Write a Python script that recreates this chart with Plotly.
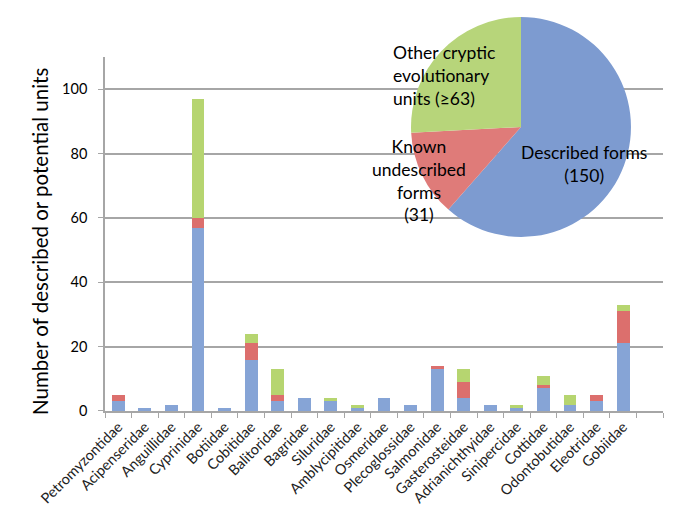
import plotly.graph_objects as go

# Families on the x axis (last slot is an empty row in the source sheet)
families = ["Petromyzontidae", "Acipenseridae", "Anguillidae", "Cyprinidae", "Botiidae",
            "Cobitidae", "Balitoridae", "Bagridae", "Siluridae", "Amblycipitidae",
            "Osmeridae", "Plecoglossidae", "Salmonidae", "Gasterosteidae", "Adrianichthyidae",
            "Sinipercidae", "Cottidae", "Odontobutidae", "Eleotridae", "Gobiidae", " "]

described = [3, 1, 2, 57, 1, 16, 3, 4, 3, 1, 4, 2, 13, 4, 2, 1, 7, 2, 3, 21, None]
undescribed = [2, 0, 0, 3, 0, 5, 2, 0, 0, 0, 0, 0, 1, 5, 0, 0, 1, 0, 2, 10, None]
cryptic = [0, 0, 0, 37, 0, 3, 8, 0, 1, 1, 0, 0, 0, 4, 0, 1, 3, 3, 0, 2, None]

# Pie inset totals
pie_labels = ["Described forms", "Known undescribed forms", "Other cryptic evolutionary units"]
pie_values = [150, 31, 63]

BLUE = "#86a4d6"
RED = "#dc6f6d"
GREEN = "#b6d570"

fig = go.Figure()
for name, vals, col in [("Described", described, BLUE),
                        ("Undescribed", undescribed, RED),
                        ("Cryptic", cryptic, GREEN)]:
    fig.add_trace(go.Bar(x=families, y=vals, name=name, marker_color=col,
                         marker_line_width=0, showlegend=False))

fig.add_trace(go.Pie(labels=pie_labels, values=pie_values, sort=False,
                     direction="clockwise", rotation=0,
                     marker=dict(colors=["#7d9bd0", "#df7b79", "#b7d57a"]),
                     textinfo="none", hoverinfo="label+value", showlegend=False,
                     domain=dict(x=[0.548, 0.943], y=[0.434, 0.9825])))

grid = "#a6a6a6"
# page body has an 8px margin, so margins are trimmed on the left/top
fig.update_layout(
    width=680, height=519,
    barmode="stack", bargap=0.52,
    plot_bgcolor="white", paper_bgcolor="white",
    margin=dict(l=97, r=25, t=2, b=116),
    font=dict(family="Lato", color="black"),
    xaxis=dict(type="category", categoryorder="array", categoryarray=families,
               range=[-0.5, 20.5], tickangle=-45, tickson="boundaries",
               ticks="outside", ticklen=5, tickcolor=grid,
               showline=True, linecolor=grid, linewidth=1.5,
               showgrid=False, tickfont=dict(size=14.5, color="#222222")),
    yaxis=dict(range=[0, 110], dtick=20, domain=[0, 0.8828],
               showgrid=True, gridcolor=grid, gridwidth=1.5,
               showline=True, linecolor=grid, linewidth=1.5,
               ticks="outside", ticklen=5, tickcolor=grid, ticklabelstandoff=8,
               zeroline=False, tickfont=dict(size=14.5)),
)

# Pie labels (paper coords: plot area spans x 105..663 px, y 10..411 px)
def px(x, y):
    return (x - 105) / 558, (411 - y) / 401

# y axis title placed as a rotated annotation
xt, yt = px(40, 242)
fig.add_annotation(x=xt, y=yt, xref="paper", yref="paper", xanchor="center",
                   yanchor="middle", textangle=-90, showarrow=False,
                   font=dict(family="Lato", size=20.5, color="black"),
                   text="Number of described or potential units")

lbl_font = dict(family="Lato", size=17.5, color="black")
x0, y0 = px(391, 76)
fig.add_annotation(x=x0, y=y0, xref="paper", yref="paper", xanchor="left",
                   yanchor="middle", align="left", showarrow=False, font=lbl_font,
                   text="Other cryptic<br>evolutionary<br>units (≥63)")
x1, y1 = px(419, 180)
fig.add_annotation(x=x1, y=y1, xref="paper", yref="paper", xanchor="center",
                   yanchor="middle", align="center", showarrow=False, font=lbl_font,
                   text="Known<br>undescribed<br>forms<br>(31)")
x2, y2 = px(584, 164)
fig.add_annotation(x=x2, y=y2, xref="paper", yref="paper", xanchor="center",
                   yanchor="middle", align="center", showarrow=False, font=lbl_font,
                   text="Described forms<br>(150)")

fig.write_html("out.html")
